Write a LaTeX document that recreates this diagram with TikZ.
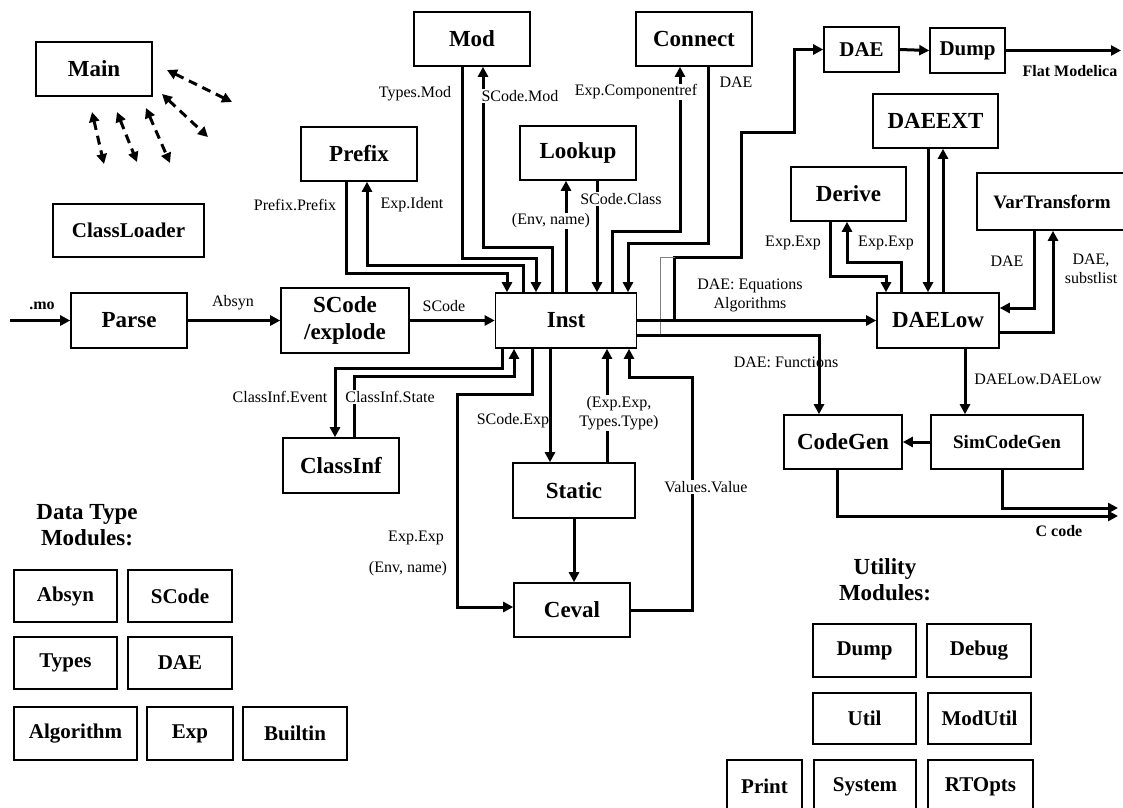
\documentclass[tikz,border=0pt]{standalone}
\usepackage{fontspec}
\setmainfont{Liberation Serif}
\usetikzlibrary{arrows.meta,positioning}

\tikzset{
  module/.style={draw, line width=1.6pt, inner sep=0pt, align=center,
    font=\fontsize{23}{27}\selectfont\bfseries},
  midmod/.style={module, font=\fontsize{21}{24}\selectfont\bfseries},
  smallmod/.style={module, font=\fontsize{19}{22}\selectfont\bfseries},
  heading/.style={align=center, inner sep=0pt, font=\fontsize{23}{26}\selectfont\bfseries},
  wire/.style={line width=3pt},
  link/.style={wire, -{Triangle[length=10pt,width=10pt]}},
  twoway/.style={line width=3pt, dash pattern=on 9pt off 6pt,
    {Triangle[length=10pt,width=10pt]}-{Triangle[length=10pt,width=10pt]}},
  lbl/.style={inner sep=1pt, align=center, font=\fontsize{16}{19}\selectfont},
  gaplbl/.style={lbl, fill=white},
  boldlbl/.style={inner sep=1pt, font=\fontsize{16}{19}\selectfont\bfseries},
}

\begin{document}
\begin{tikzpicture}[x=1pt,y=-1pt]
\useasboundingbox (0,0) rectangle (1123,807);

% main flow boxes
\node[module, minimum width=116, minimum height=54] (main) at (94,69) {Main};
\node[midmod, minimum width=151, minimum height=53] (classloader) at (128.5,230.5) {ClassLoader};
\node[module, minimum width=116, minimum height=54] (mod) at (472,39) {Mod};
\node[module, minimum width=116, minimum height=54] (connect) at (694,39) {Connect};
\node[module, minimum width=116, minimum height=54] (prefix) at (359,154) {Prefix};
\node[module, minimum width=116, minimum height=54] (lookup) at (578,153) {Lookup};
\node[midmod, minimum width=75, minimum height=45] (dae) at (861.5,49.5) {DAE};
\node[midmod, minimum width=75, minimum height=45] (dump) at (967.5,50.5) {Dump};
\node[module, minimum width=125, minimum height=54] (daeext) at (935.5,121) {DAEEXT};
\node[module, minimum width=115, minimum height=54] (derive) at (848.5,194) {Derive};
\node[smallmod, minimum width=150, minimum height=57] (vartransform) at (1052,201.5) {VarTransform};
\node[module, minimum width=116, minimum height=55] (parse) at (129,320.5) {Parse};
\node[module, minimum width=128, minimum height=65] (scode) at (345,320.5) {SCode\\/explode};
\node[module, minimum width=141, minimum height=55] (inst) at (566,320.5) {Inst};
\node[module, minimum width=116, minimum height=55] (classinf) at (341,465.5) {ClassInf};
\node[module, minimum width=122, minimum height=55] (static) at (574,490.5) {Static};
\node[module, minimum width=116, minimum height=54] (ceval) at (572,610) {Ceval};
\node[module, minimum width=122, minimum height=55] (daelow) at (938,320.5) {DAELow};
\node[module, minimum width=118, minimum height=54] (codegen) at (843,442) {CodeGen};
\node[smallmod, minimum width=152, minimum height=54] (simcodegen) at (1007,442) {SimCodeGen};

% data type modules
\node[heading] (datatitle) at (87,525) {Data Type\\Modules:};
\node[midmod, minimum width=103, minimum height=52] (absyn) at (65.5,596) {Absyn};
\node[midmod, minimum width=104, minimum height=52] (scodemod) at (180,596) {SCode};
\node[midmod, minimum width=103, minimum height=52] (types) at (65.5,663) {Types};
\node[midmod, minimum width=104, minimum height=52] (daemod) at (180,663) {DAE};
\node[midmod, minimum width=123, minimum height=53] (algorithm) at (75.5,733.5) {Algorithm};
\node[midmod, minimum width=86, minimum height=53] (exp) at (190,733.5) {Exp};
\node[midmod, minimum width=104, minimum height=53] (builtin) at (295,733.5) {Builtin};

% utility modules
\node[heading] (utiltitle) at (885,580) {Utility\\Modules:};
\node[midmod, minimum width=103, minimum height=53] (dumpmod) at (864.5,650.5) {Dump};
\node[midmod, minimum width=104, minimum height=53] (debug) at (979,650.5) {Debug};
\node[midmod, minimum width=103, minimum height=51] (util) at (864.5,718.5) {Util};
\node[midmod, minimum width=103, minimum height=51] (modutil) at (979.5,718.5) {ModUtil};
\node[midmod, minimum width=75, minimum height=53] (print) at (764.5,786.5) {Print};
\node[midmod, minimum width=102, minimum height=53] (system) at (865,786.5) {System};
\node[midmod, minimum width=105, minimum height=53] (rtopts) at (980.5,786.5) {RTOpts};

% free ends
\coordinate (moin) at (10,320.5);
\coordinate (flatout) at (1121,50.5);
\coordinate (ccodea) at (1118,508);
\coordinate (ccodeb) at (1118,516);
\coordinate (ma) at (167,70);   \coordinate (mb) at (232,102);
\coordinate (mc) at (162,94);   \coordinate (md) at (208,137);
\coordinate (me) at (146,108);  \coordinate (mf) at (170,163);
\coordinate (mg) at (117,112);  \coordinate (mh) at (137,162);
\coordinate (mi) at (92,112);   \coordinate (mj) at (104,164);

% Main calls
\draw[twoway] (ma) -- (mb);
\draw[twoway] (mc) -- (md);
\draw[twoway] (me) -- (mf);
\draw[twoway] (mg) -- (mh);
\draw[twoway] (mi) -- (mj);

% front end
\draw[link] (moin) -- (parse.west);
\draw[link] (parse.east) -- (scode.west);
\draw[link] (scode.east) -- (inst.west);

% above Inst
\draw[link] ([xshift=-13]prefix.south) -- ++(0,92) -| ([xshift=-59]inst.north);
\draw[link] ([xshift=-43]inst.north) -- ++(0,-27) -| ([xshift=8]prefix.south);
\draw[link] ([xshift=-10]mod.south) -- ++(0,192) -| ([xshift=-30]inst.north);
\draw[link] ([xshift=-14]inst.north) -- ++(0,-45) -| ([xshift=11]mod.south);
\draw[link] (inst.north) -- ([xshift=-12]lookup.south);
\draw[link] ([xshift=19]lookup.south) -- ([xshift=31]inst.north);
\draw[link] ([xshift=46]inst.north) -- ++(0,-61) -| ([xshift=-14]connect.south);
\draw[link] ([xshift=14]connect.south) -- ++(0,177) -| ([xshift=62]inst.north);

% to the back end
\draw[link] (inst.east) -- ++(37,0) -- ++(0,-63.5) -- ++(67,0) -- ++(0,-125) -- ++(53,0) |- (dae.west);
\draw[gray, line width=0.8pt] ([xshift=23pt,yshift=-14.5pt]inst.east) |- ++(14.5,-78);
\draw[link] (dae.east) -- (dump.west);
\draw[link] (dump.east) -- (flatout);
\draw[link] (inst.east) -- (daelow.west);
\draw[link] ([yshift=-14.5pt]inst.east) -| ([xshift=-24]codegen.north);

% around DAELow
\draw[link] ([xshift=-18.5]derive.south) -- ++(0,55) -| ([xshift=-52]daelow.north);
\draw[link] ([xshift=-37]daelow.north) -- ++(0,-30) -| ([xshift=-1.5]derive.south);
\draw[link] ([xshift=-7.5]daeext.south) -- ([xshift=-10]daelow.north);
\draw[link] ([xshift=5]daelow.north) -- ([xshift=7.5]daeext.south);
\draw[link] ([xshift=-18]vartransform.south) |- ([yshift=12.5pt]daelow.east);
\draw[link] ([yshift=-11.5pt]daelow.east) -| ([xshift=1]vartransform.south);
\draw[link] ([xshift=27]daelow.south) -- ([xshift=-42]simcodegen.north);
\draw[link] (simcodegen.west) -- (codegen.east);
\draw[link] ([xshift=-6]codegen.south) |- (ccodeb);
\draw[link] ([xshift=-5]simcodegen.south) |- (ccodea);

% below Inst
\draw[link] ([xshift=-64]inst.south) -- ++(0,20) -| ([xshift=-6]classinf.north);
\draw[link] ([xshift=13]classinf.north) -- ++(0,-61) -| ([xshift=-52]inst.south);
\draw[link] ([xshift=-34]inst.south) -- ++(0,46) -- ++(-75,0) |- ([yshift=3pt]ceval.west);
\draw[link] ([xshift=-16]inst.south) -- ([xshift=-24]static.north);
\draw[link] ([xshift=33]static.north) -- ([xshift=41]inst.south);
\draw[link] (static.south) -- (static.south |- ceval.north);
\draw[link] (ceval.east) -- ++(62,0) -- ++(0,-233) -| ([xshift=63]inst.south);

% labels
\node[boldlbl] (lmo) at (42,306) {.mo};
\node[lbl] (labsyn) at (233,303) {Absyn};
\node[lbl] (lscode) at (444,306) {SCode};
\node[lbl] (lprefix) at (295,205) {Prefix.Prefix};
\node[lbl] (lident) at (412,205) {Exp.Ident};
\node[lbl] (ltypesmod) at (415,94) {Types.Mod};
\node[gaplbl] (lscodemod) at (520,96) {SCode.Mod};
\node[gaplbl] (lcref) at (636,92) {Exp.Componentref};
\node[lbl] (lconndae) at (736,82) {DAE};
\node[gaplbl] (lenvtop) at (551,221) {(Env, name)};
\node[gaplbl] (lclass) at (621,199) {SCode.Class};
\node[lbl] (leqns) at (750,295) {DAE: Equations\\Algorithms};
\node[lbl] (lfuncs) at (786,362) {DAE: Functions};
\node[lbl] (lderivea) at (793,243) {Exp.Exp};
\node[lbl] (lderiveb) at (886,243) {Exp.Exp};
\node[lbl] (lvardae) at (1007,261) {DAE};
\node[lbl] (lsubst) at (1091,269) {DAE,\\substlist};
\node[lbl] (ldaelow) at (1038,379) {DAELow.DAELow};
\node[boldlbl] (lccode) at (1059,531) {C code};
\node[boldlbl] (lflat) at (1070,71) {Flat Modelica};
\node[lbl] (levent) at (280,397) {ClassInf.Event};
\node[gaplbl] (lstate) at (390,397) {ClassInf.State};
\node[lbl] (lscodeexp) at (513,421) {SCode.Exp};
\node[gaplbl] (lexptype) at (619,413) {(Exp.Exp,\\Types.Type)};
\node[gaplbl] (lvalue) at (706,487) {Values.Value};
\node[lbl] (lcevexp) at (416,538) {Exp.Exp};
\node[lbl] (lcevenv) at (408,569) {(Env, name)};
\end{tikzpicture}
\end{document}
